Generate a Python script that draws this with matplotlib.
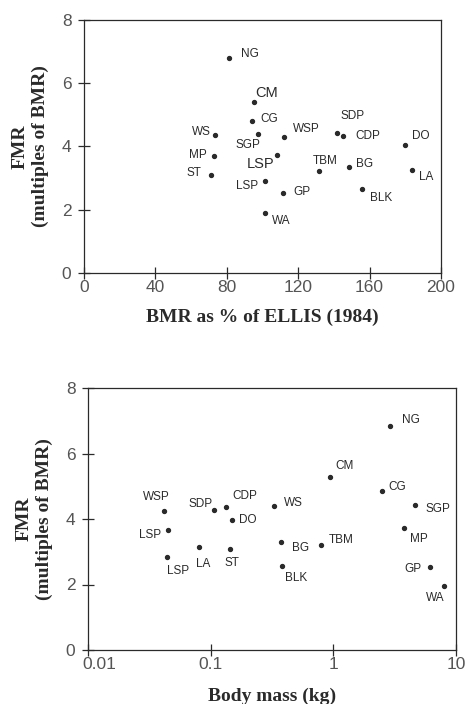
import matplotlib

matplotlib.use("Agg")
import matplotlib.pyplot as plt
from matplotlib.ticker import FixedLocator, FixedFormatter
from matplotlib.transforms import ScaledTranslation

# top panel: FMR vs BMR as % of Ellis (1984)
top_codes = ["NG", "CM", "CG", "SGP", "WS", "WSP", "SDP", "CDP", "DO", "MP",
             "LSP", "TBM", "BG", "LA", "ST", "LSP", "GP", "BLK", "WA"]
top_bmr_pct = [81, 95, 94, 97.3, 73.2, 112.2, 141.9, 145.3, 180, 72.8,
               108.3, 131.5, 148.5, 183.6, 71.1, 101.2, 111.5, 155.6, 101.6]
top_fmr = [6.79, 5.40, 4.80, 4.39, 4.37, 4.31, 4.43, 4.34, 4.06, 3.69,
           3.72, 3.24, 3.34, 3.27, 3.10, 2.91, 2.52, 2.67, 1.91]

# bottom panel: FMR vs body mass
bot_codes = ["NG", "CM", "CG", "SGP", "MP", "GP", "WA", "WSP", "LSP", "LSP",
             "SDP", "CDP", "DO", "LA", "ST", "WS", "BG", "BLK", "TBM"]
bot_mass_kg = [2.90, 0.935, 2.49, 4.62, 3.78, 6.16, 8.0, 0.0414, 0.045, 0.044,
               0.106, 0.133, 0.150, 0.081, 0.144, 0.329, 0.373, 0.382, 0.795]
bot_fmr = [6.85, 5.29, 4.85, 4.44, 3.74, 2.54, 1.95, 4.24, 3.65, 2.85,
           4.27, 4.37, 3.97, 3.15, 3.07, 4.39, 3.30, 2.58, 3.21]

# label placement (ha, dx px, dy px up, font size)
top_label_pos = [
    ("left", 12.7, 4, 8.5), ("left", 2, 9, 10.5), ("left", 8.7, 2, 8.5),
    ("center", -9.3, -10.7, 8.5), ("right", -4, 3, 8.5), ("left", 8.3, 7.3, 8.5),
    ("center", 15, 17, 8.5), ("left", 12, 0, 8.5), ("left", 6.3, 8.7, 8.5),
    ("right", -7.3, 1.3, 8.5), ("right", -3.3, -8.7, 10.5), ("center", 6.3, 9.3, 8.5),
    ("left", 7, 3.7, 8.5), ("left", 7, -7, 8.5), ("right", -9.3, 1.7, 8.5),
    ("right", -6.3, -5, 8.5), ("left", 10.3, 1.3, 8.5), ("left", 8.3, -9.7, 8.5),
    ("left", 7, -8, 8.5),
]
bot_label_pos = [
    ("left", 12, 5.3), ("left", 6, 10.3), ("left", 6.3, 4.3), ("left", 10.3, -4.7),
    ("left", 5.7, -11), ("right", -8.7, -2), ("center", -9.3, -11.7),
    ("center", -7.3, 13.7), ("right", -7.3, -4.7), ("center", 11, -14.3),
    ("right", -0.7, 6), ("left", 6.3, 10.7), ("left", 7, 0), ("center", 3.7, -17.3),
    ("center", 2, -13.3), ("left", 9.7, 3), ("left", 11.3, -5.7), ("left", 3.3, -12),
    ("left", 7.7, 5.3),
]

INK = "#2a2a2a"
TICK_FONT = {"family": ["Liberation Sans", "DejaVu Sans"], "size": 12.5, "color": "#555555"}
LABEL_FONT = {"family": ["Liberation Serif", "DejaVu Serif"], "weight": "bold", "size": 14, "color": INK}
POINT_FONT = ["Liberation Sans", "DejaVu Sans"]


def style_axes(ax):
    for spine in ax.spines.values():
        spine.set_linewidth(0.9)
        spine.set_color(INK)
    ax.tick_params(direction="inout", length=8, width=0.9, color=INK)
    ax.tick_params(axis="x", pad=1)
    ax.tick_params(axis="y", pad=5)
    ax.minorticks_off()
    for lbl in ax.get_xticklabels() + ax.get_yticklabels():
        lbl.set_fontfamily(TICK_FONT["family"])
        lbl.set_fontsize(TICK_FONT["size"])
        lbl.set_color(TICK_FONT["color"])


def label_points(ax, codes, xs, ys, positions):
    for code, x, y, pos in zip(codes, xs, ys, positions):
        ha, dx, dy = pos[0], pos[1], pos[2]
        size = pos[3] if len(pos) > 3 else 8.5
        ax.annotate(code, (x, y), xytext=(dx, dy), textcoords="offset pixels",
                    ha=ha, va="center", fontsize=size, family=POINT_FONT, color=INK)


fig = plt.figure(figsize=(4.67, 7.04), dpi=100)

# top panel
ax1 = fig.add_axes([84 / 467, 1 - 273 / 704, 357 / 467, 253 / 704])
ax1.scatter(top_bmr_pct, top_fmr, s=8, color=INK, zorder=3)
ax1.set_xlim(0, 200)
ax1.set_ylim(0, 8)
ax1.set_xticks([0, 40, 80, 120, 160, 200])
ax1.set_yticks([0, 2, 4, 6, 8])
style_axes(ax1)
label_points(ax1, top_codes, top_bmr_pct, top_fmr, top_label_pos)
ax1.set_xlabel("BMR as % of ELLIS (1984)", fontdict=LABEL_FONT, labelpad=10)
ax1.set_ylabel("FMR\n(multiples of BMR)", fontdict=LABEL_FONT, labelpad=9, linespacing=1.25)

# bottom panel
ax2 = fig.add_axes([88 / 467, 1 - 650 / 704, 368 / 467, 262 / 704])
ax2.scatter(bot_mass_kg, bot_fmr, s=8, color=INK, zorder=3)
ax2.set_xscale("log")
ax2.set_xlim(0.01, 10)
ax2.set_ylim(0, 8)
ax2.xaxis.set_major_locator(FixedLocator([0.01, 0.1, 1, 10]))
ax2.xaxis.set_major_formatter(FixedFormatter(["0.01", "0.1", "1", "10"]))
ax2.set_yticks([0, 2, 4, 6, 8])
style_axes(ax2)
first = ax2.get_xticklabels()[0]
first.set_horizontalalignment("left")
first.set_transform(first.get_transform() + ScaledTranslation(-6 / 100, 0, fig.dpi_scale_trans))
label_points(ax2, bot_codes, bot_mass_kg, bot_fmr, bot_label_pos)
ax2.set_xlabel("Body mass (kg)", fontdict=LABEL_FONT, labelpad=11)
ax2.set_ylabel("FMR\n(multiples of BMR)", fontdict=LABEL_FONT, labelpad=9, linespacing=1.25)

fig.savefig("out.png", dpi=100)
